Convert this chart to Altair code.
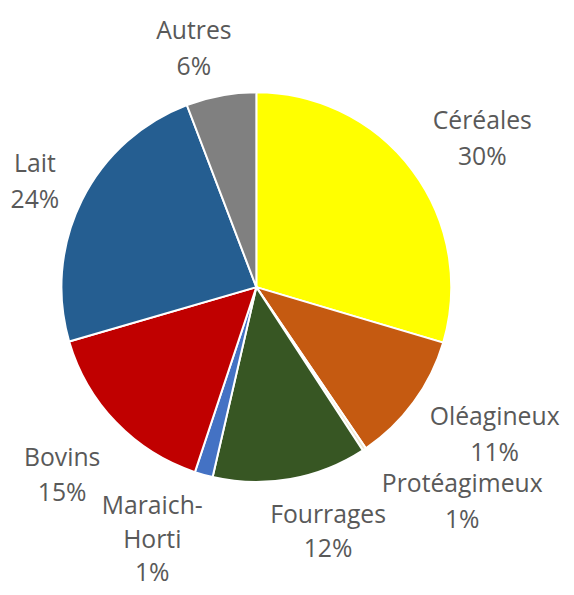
import altair as alt
import pandas as pd

categories = ["Céréales", "Oléagineux", "Protéagimeux", "Fourrages",
              "Maraich-Horti", "Bovins", "Lait", "Autres"]
values = [29.6, 10.9, 0.3, 12.8, 1.5, 15.4, 23.7, 5.8]
pct_labels = ["30%", "11%", "1%", "12%", "1%", "15%", "24%", "6%"]
name_lines = ["Céréales", "Oléagineux", "Protéagimeux", "Fourrages",
              "Maraich-\nHorti", "Bovins", "Lait", "Autres"]
colors = ["#FFFF00", "#C55A11", "#EDE6CF", "#375623",
          "#4472C4", "#C00000", "#255E91", "#808080"]

df = pd.DataFrame({
    "cat": categories,
    "val": values,
    "order": list(range(len(categories))),
    "label": [n + "\n" + p for n, p in zip(name_lines, pct_labels)],
})

CX, CY = 251, 279  # pie centre inside the view

pie = alt.Chart(df).mark_arc(outerRadius=197, stroke="white", strokeWidth=2).encode(
    theta=alt.Theta("val:Q", stack=True),
    order=alt.Order("order:O"),
    color=alt.Color("cat:N", scale=alt.Scale(domain=categories, range=colors), legend=None),
    x=alt.value(CX),
    y=alt.value(CY),
)

# label nudges (dx, dy, lineHeight) per category, for Excel-like placement
nudges = {
    "Céréales": (20, -12, 36),
    "Oléagineux": (31, -22, 36),
    "Protéagimeux": (64, -17, 36),
    "Fourrages": (27, -26, 35),
    "Maraich-Horti": (-35, -29, 34),
    "Bovins": (-9, -8, 36),
    "Lait": (9, -8, 36),
    "Autres": (-16, -3, 36),
}

base_text = alt.Chart(df).transform_window(
    cum="sum(val)", sort=[alt.SortField("order")],
    frame=[None, 0],
).transform_calculate(
    mid="datum.cum - datum.val / 2"
)

layers = [pie]
for cat in categories:
    dx, dy, lh = nudges[cat]
    t = base_text.transform_filter(alt.datum.cat == cat).mark_text(
        radius=260, fontSize=25, font="Open Sans", color="#595959",
        lineBreak="\n", lineHeight=lh, align="center", baseline="middle",
        dx=dx, dy=dy,
    ).encode(
        theta=alt.Theta("mid:Q"),
        text="label:N",
        x=alt.value(CX),
        y=alt.value(CY),
    )
    layers.append(t)

chart = alt.layer(*layers).properties(
    width=564, height=579, padding=0, background="white",
    autosize=alt.AutoSizeParams(type="none"),
).configure_view(stroke=None)

chart.save("out.html", embed_options={"renderer": "svg", "actions": False})
